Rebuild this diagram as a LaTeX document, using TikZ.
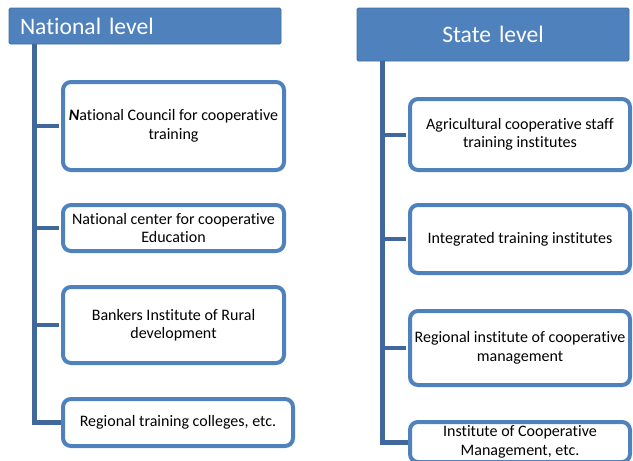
\documentclass[tikz,border=0pt]{standalone}
\usepackage{fontspec}
\setmainfont{Carlito}[Ligatures=NoCommon]
\usetikzlibrary{positioning}

\definecolor{hdrblue}{RGB}{79,129,189}
\definecolor{trunkblue}{RGB}{64,104,155}

\begin{document}
\begin{tikzpicture}[x=1pt,y=-1pt,every node/.style={font=\fontsize{16}{18.5}\selectfont},
  header/.style={fill=hdrblue,draw=hdrblue!85!black,line width=0.8pt,rounded corners=1.5pt,
    text=white,font=\fontsize{23.6}{28}\selectfont,text width=250pt,inner xsep=11pt,inner ysep=0pt},
  unitbox/.style={draw=hdrblue,line width=4pt,rounded corners=8pt,fill=white,align=center,inner sep=0pt},
  trunk/.style={draw=trunkblue,line width=5pt},
  twig/.style={draw=trunkblue,line width=4pt,shorten >=2pt}]
  \useasboundingbox (0,0) rectangle (633,461);

  % National level
  \node[header,align=left,minimum height=36pt] (nat) at (145,26) {National level};
  \coordinate (nroot) at (34,44);
  \node[unitbox,minimum width=221pt,minimum height=88pt] (n1) at (173.5,126)
    {\textbf{\textit{N}}ational Council for cooperative\\training};
  \node[unitbox,minimum width=221pt,minimum height=46pt] (n2) at (173.5,228)
    {National center for cooperative\\Education};
  \node[unitbox,minimum width=221pt,minimum height=76pt] (n3) at (173.5,325)
    {Bankers Institute of Rural\\development};
  \node[unitbox,minimum width=230pt,minimum height=47pt] (n4) at (178,422.5)
    {Regional training colleges, etc.};
  \draw[trunk] (nroot) |- (n4.west);
  \foreach \b in {n1,n2,n3,n4} \draw[twig] (nroot |- \b.west) -- (\b.west);

  % State level
  \node[header,align=center,minimum height=53pt] (st) at (493,34.5) {State level};
  \coordinate (sroot) at (382,61);
  \node[unitbox,minimum width=220pt,minimum height=71pt] (s1) at (520,134.5)
    {Agricultural cooperative staff\\training institutes};
  \node[unitbox,minimum width=220pt,minimum height=68pt] (s2) at (520,239)
    {Integrated training institutes};
  \node[unitbox,minimum width=220pt,minimum height=74pt] (s3) at (520,348)
    {Regional institute of cooperative\\management};
  \node[unitbox,minimum width=220pt,minimum height=40pt] (s4) at (520,442)
    {Institute of Cooperative\\Management, etc.};
  \draw[trunk] (sroot) |- (s4.west);
  \foreach \b in {s1,s2,s3,s4} \draw[twig] (sroot |- \b.west) -- (\b.west);
\end{tikzpicture}
\end{document}
